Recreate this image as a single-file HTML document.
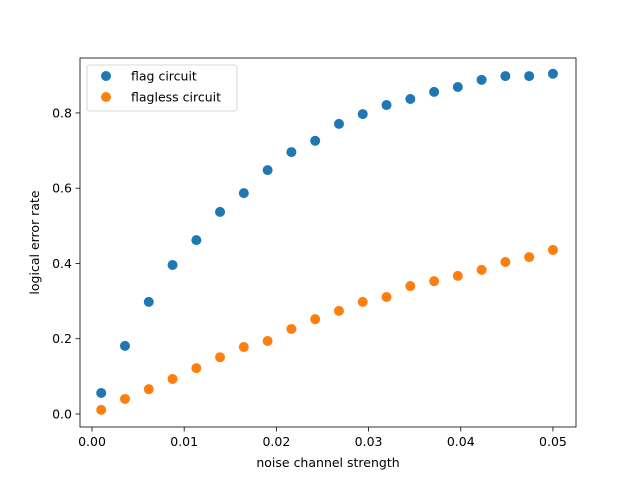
<!DOCTYPE html>
<html><head><meta charset="utf-8"><style>
body{margin:0;background:#fff;}
svg{display:block;font-family:"DejaVu Sans","Liberation Sans",sans-serif;}
</style></head><body>
<svg id="chart" width="640" height="480" xmlns="http://www.w3.org/2000/svg"></svg>
<script>
const xValues=[0.001,0.00358,0.00616,0.00874,0.01132,0.01389,0.01647,0.01905,0.02163,0.02421,0.02679,0.02937,0.03195,0.03453,0.03711,0.03968,0.04226,0.04484,0.04742,0.05];
const flagValues=[0.056,0.181,0.298,0.396,0.462,0.537,0.587,0.648,0.696,0.726,0.771,0.797,0.821,0.837,0.856,0.869,0.888,0.898,0.898,0.904];
const flaglessValues=[0.011,0.040,0.066,0.093,0.122,0.151,0.178,0.194,0.226,0.252,0.274,0.298,0.311,0.340,0.353,0.367,0.383,0.404,0.417,0.436];
const xTicks=[0,0.01,0.02,0.03,0.04,0.05];
const xTickLabels=["0.00","0.01","0.02","0.03","0.04","0.05"];
const yTicks=[0,0.2,0.4,0.6,0.8];
const yTickLabels=["0.0","0.2","0.4","0.6","0.8"];

const NS="http://www.w3.org/2000/svg";
const svg=document.getElementById('chart');
const L=80,R=576,T=58,B=427;
const xMin=-0.0013,xMax=0.0525,yMin=-0.0345,yMax=0.946;
const xs=v=>L+(v-xMin)/(xMax-xMin)*(R-L);
const ys=v=>B-(v-yMin)/(yMax-yMin)*(B-T);
function mk(tag,attrs,parent){const e=document.createElementNS(NS,tag);for(const k in attrs)e.setAttribute(k,attrs[k]);(parent||svg).appendChild(e);return e;}

const frame=mk('rect',{x:L,y:T,width:R-L,height:B-T,fill:'none',stroke:'#000','stroke-width':0.8});



xTicks.forEach((t,i)=>{
  const x=xs(t);
  const tk=mk('line',{x1:x,x2:x,y1:B,y2:B+4.5,stroke:'#000','stroke-width':0.8});
  
  
  const tx=mk('text',{x:x,y:B+19,'text-anchor':'middle','font-size':12.5});
  tx.textContent=xTickLabels[i];
  
  
});
yTicks.forEach((t,i)=>{
  const y=ys(t);
  const tk=mk('line',{x1:L-4.5,x2:L,y1:y,y2:y,stroke:'#000','stroke-width':0.8});
  
  
  const tx=mk('text',{x:L-8,y:y+4.5,'text-anchor':'end','font-size':12.5});
  tx.textContent=yTickLabels[i];
  
  
});
const xt=mk('text',{x:(L+R)/2,y:467,'text-anchor':'middle','font-size':12.5});
xt.textContent='noise channel strength';


const yt=mk('text',{x:0,y:0,'text-anchor':'middle','font-size':12.5,transform:`translate(39,${(T+B)/2}) rotate(-90)`});
yt.textContent='logical error rate';



xValues.forEach((x,i)=>{
  const c=mk('circle',{cx:xs(x),cy:ys(flagValues[i]),r:5,fill:'#1f77b4'});
  
  
});
xValues.forEach((x,i)=>{
  const c=mk('circle',{cx:xs(x),cy:ys(flaglessValues[i]),r:5,fill:'#ff7f0e'});
  
  
});

const lg=mk('g',{});


mk('rect',{x:87,y:65,width:150,height:46,rx:2.5,fill:'#fff','fill-opacity':0.8,stroke:'#ccc','stroke-width':0.8},lg);
[['flag circuit','#1f77b4',76],['flagless circuit','#ff7f0e',97]].forEach(([lab,col,y])=>{
  const c=mk('circle',{cx:106,cy:y,r:5,fill:col},lg);
  
  
  const t=mk('text',{x:131,y:y+4.5,'font-size':12.5},lg);
  t.textContent=lab;
  
  
});
</script>
</body></html>
